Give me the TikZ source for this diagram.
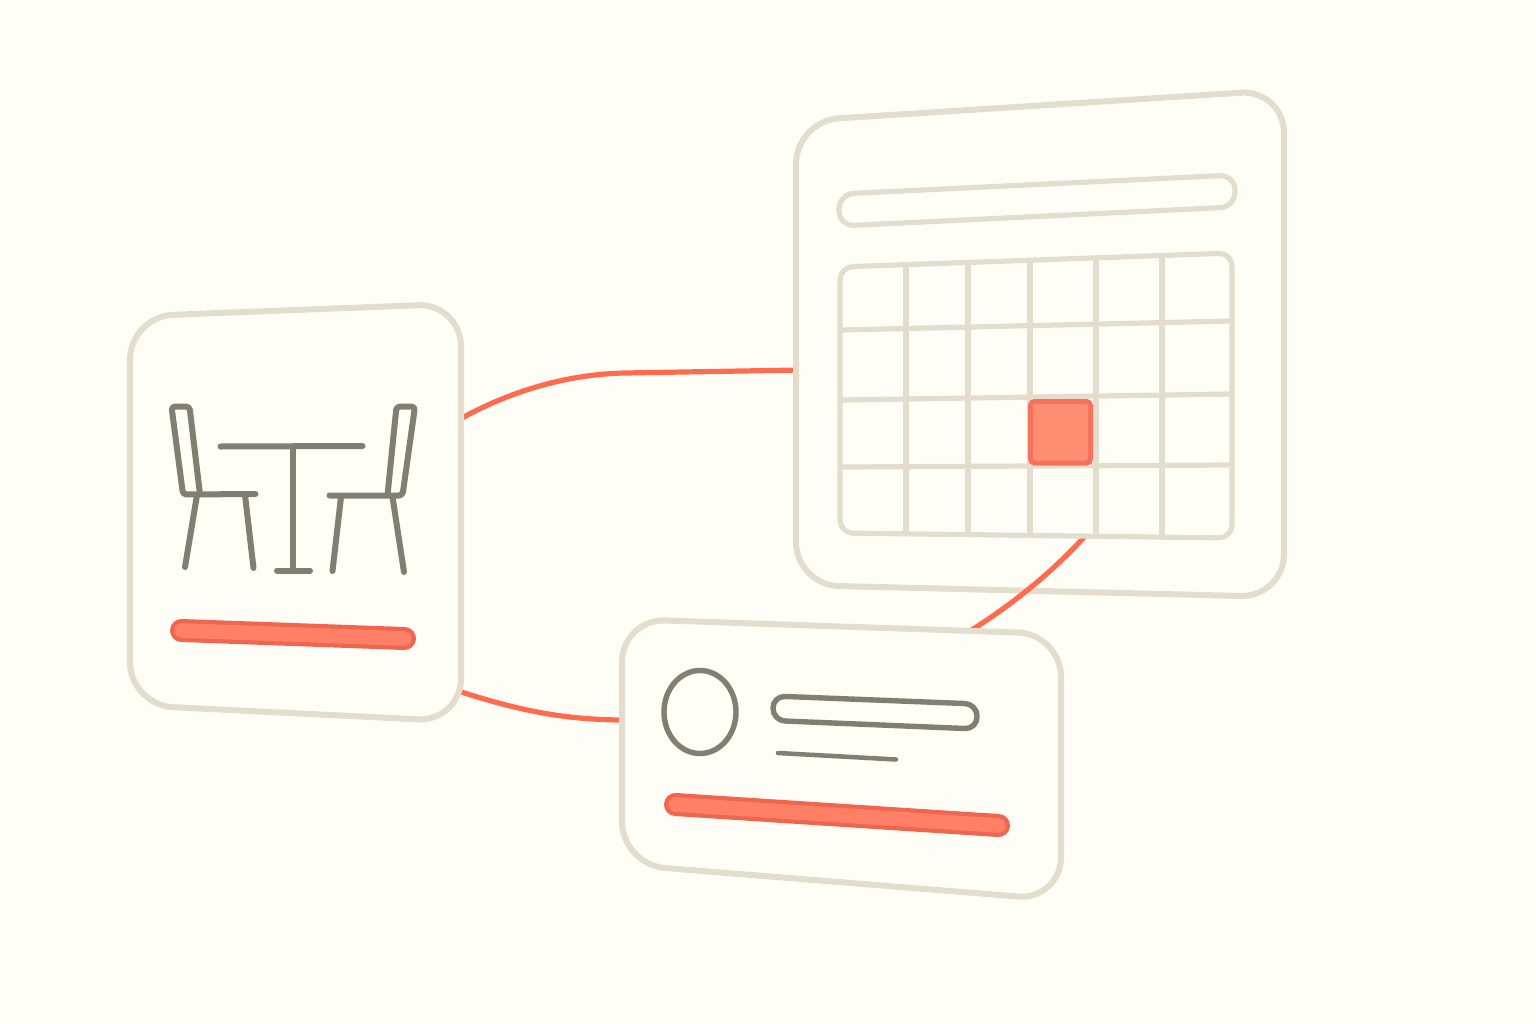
\documentclass[tikz,border=0pt]{standalone}
\usepackage{xcolor}
\usepackage{tikz}
\definecolor{paper}{HTML}{FFFEF6}
\definecolor{sand}{HTML}{E4DDCE}
\definecolor{slate}{HTML}{7F7F72}
\definecolor{coral}{HTML}{FF6B4F}
\definecolor{coraledge}{HTML}{F0654F}
\definecolor{coralfill}{HTML}{FF8066}
\definecolor{coralsoft}{HTML}{FF8D72}
\definecolor{coralrim}{HTML}{F6725A}

\begin{document}
\begin{tikzpicture}[
  x=0.01cm, y=-0.01cm,
  card/.style={draw=sand, fill=paper, line width=0.06cm, rounded corners=0.43cm},
  gridline/.style={draw=sand, line width=0.052cm},
  icon/.style={draw=slate, line width=0.06cm, line cap=round, line join=round},
  outline/.style={draw=slate, line width=0.054cm},
  link/.style={draw=coral, line width=0.052cm},
  redbar/.style={draw=coraledge, double=coralfill, line width=0.042cm,
                 double distance=0.146cm, line cap=round},
]

% Background
\fill[paper] (0,0) rectangle (1536,1024);
\useasboundingbox (0,0) rectangle (1536,1024);

% Ends of the links
\coordinate (tableout) at (455,422);
\coordinate (tablelow) at (455,690);
\coordinate (calin) at (800,370);
\coordinate (calout) at (1086,535);
\coordinate (bookin) at (626,720);
\coordinate (bookup) at (962,636);

% Links under the cards
\draw[link] (tableout) .. controls (510,390) and (570,374) .. (625,373) -- (calin);
\draw[link] (tablelow) .. controls (520,711) and (565,720) .. (bookin);

% Table card
\draw[card] (130,316.5) -- (461,303.5) -- (461,721.5) -- (130,705) -- cycle;

% Calendar card
\draw[card] (796,121) -- (1284,90) -- (1284,597) -- (796,585) -- cycle;

% Link over the calendar card
\draw[link] (calout) .. controls (1050,575) and (1005,610) .. (bookup);

% Calendar header
\draw[gridline, rounded corners=0.15cm] (839,194) -- (1235,175) -- (1235,207) -- (839,226) -- cycle;

% Calendar grid
\draw[gridline, rounded corners=0.13cm] (840,267) -- (1232,253) -- (1232,538) -- (840,533) -- cycle;
\draw[gridline] (841,330) -- (1231,321);
\draw[gridline] (842,400) -- (1231,394);
\draw[gridline] (842,467) -- (1231,465);
\draw[gridline] (906,265) -- (906,534);
\draw[gridline] (968,263) -- (968,535);
\draw[gridline] (1030,261) -- (1030,536);
\draw[gridline] (1096,258) -- (1096,537);
\draw[gridline] (1162,256) -- (1162,537);
\draw[draw=coralrim, fill=coralsoft, line width=0.05cm, rounded corners=0.04cm]
  (1030.5,401.5) rectangle (1090.5,463);

% Person card
\draw[card] (622,619) -- (1061,634) -- (1061,900) -- (622,864.5) -- cycle;
\draw[outline] (700,712) ellipse [x radius=36, y radius=41.5];
\draw[outline, rounded corners=0.12cm] (773,696) -- (977,704) -- (977,729) -- (773,720.5) -- cycle;
\draw[icon, line width=0.045cm] (778,753) -- (896,759.5);
\draw[redbar] (675.5,804.5) -- (998.5,825.5);

% Table and chairs
\draw[icon] (220.5,446.5) -- (362.5,446);
\draw[icon] (292.5,448) -- (292.5,570.5);
\draw[icon] (277,570.5) -- (310,570.5);

\draw[icon, rounded corners=0.035cm] (200,494.5) -- (189.5,406.5) -- (171.5,406.5) -- (183,494.5) -- (255.5,494);
\draw[icon] (197,495) -- (185,567);
\draw[icon] (245,495) -- (253.5,568);

\draw[icon, rounded corners=0.035cm] (387.5,495) -- (396.5,406.5) -- (415,406.5) -- (402.5,495.5) -- (329.5,495.5);
\draw[icon] (341,497) -- (332.5,571);
\draw[icon] (392.5,497) -- (404,572);

\draw[redbar] (181.5,630.5) -- (404.5,638.5);

\end{tikzpicture}
\end{document}
